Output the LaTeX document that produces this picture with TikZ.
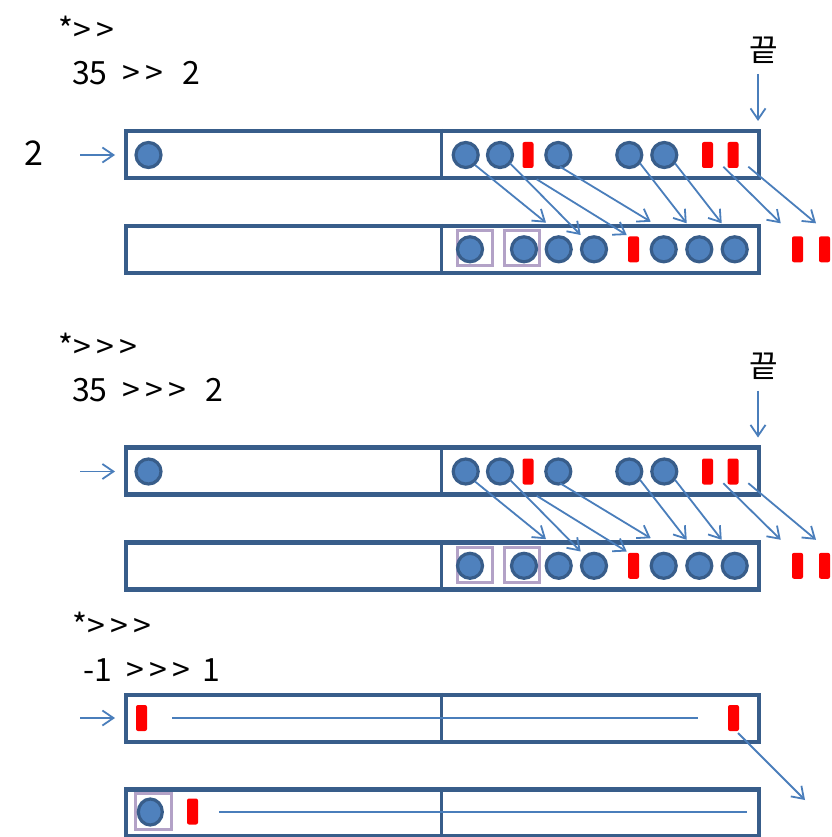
\documentclass[tikz,border=0pt]{standalone}
\usepackage{fontspec}
\setmainfont{Noto Sans CJK KR}
\usetikzlibrary{arrows.meta,shapes.geometric}
\definecolor{boxc}{HTML}{385D8A}
\definecolor{fillc}{HTML}{4F81BD}
\definecolor{arrc}{HTML}{4A7EBB}
\definecolor{purp}{HTML}{B3A2C7}
\tikzset{
 reg/.style={rectangle, draw=boxc, line width=4.2pt, minimum width=633pt, minimum height=47pt, inner sep=0pt},
 bit/.style={circle, draw=boxc, fill=fillc, line width=3.2pt, minimum size=25pt, inner sep=0pt},
 rbit/.style={rectangle, fill=red, rounded corners=2pt, minimum width=11pt, minimum height=26pt, inner sep=0pt},
 sel/.style={rectangle, draw=purp, line width=3pt, minimum size=35pt, inner sep=0pt},
 conn/.style={draw=arrc, line width=1.8pt, -{Straight Barb[length=11pt,width=15pt,line width=1.8pt]}},
 plain/.style={draw=arrc, line width=1.8pt},
 lbl/.style={font=\fontsize{32}{36}\selectfont, anchor=base west, inner sep=0pt},
 kor/.style={font=\fontsize{31}{34}\selectfont, inner sep=0pt},
}
\newcommand\shiftsec[4]{%
\begin{scope}[shift={(0,#2)}]
 \node[lbl] (#1t1) at (58,42) {#3};
 \node[lbl] (#1t2) at (72,85) {#4};
 \node[kor] (#1end) at (764,50) {끝};
 \coordinate (#1e0) at (758,74);
 \coordinate (#1e1) at (758,121);
 \draw[conn] (#1e0) -- (#1e1);
 \coordinate (#1l0) at (80,155);
 \coordinate (#1l1) at (115,155);
 \draw[conn] (#1l0) -- (#1l1);
 \node[reg] (#1r1) at (442.5,154.5) {};
 \draw[draw=boxc, line width=3.2pt] ([xshift=-1pt]#1r1.north) -- ([xshift=-1pt]#1r1.south);
 \node[reg] (#1r2) at (442.5,249.5) {};
 \draw[draw=boxc, line width=3.2pt] ([xshift=-1pt]#1r2.north) -- ([xshift=-1pt]#1r2.south);
 \node[bit] (#1a0) at (148.5,155) {};
 \node[bit] (#1a1) at (465.7,155) {};
 \node[bit] (#1a2) at (500,155) {};
 \node[rbit] (#1a3) at (528,155) {};
 \node[bit] (#1a4) at (558.3,155) {};
 \node[bit] (#1a5) at (629.3,155) {};
 \node[bit] (#1a6) at (664.3,155) {};
 \node[rbit] (#1a7) at (707.5,155) {};
 \node[rbit] (#1a8) at (733,155) {};
 \node[sel] (#1s1) at (475.3,248) {};
 \node[sel] (#1s2) at (522,248) {};
 \node[bit] (#1b1) at (470,249.3) {};
 \node[bit] (#1b2) at (524,249.3) {};
 \node[bit] (#1b3) at (558.7,249.3) {};
 \node[bit] (#1b4) at (594,249.3) {};
 \node[rbit] (#1b5) at (633.5,249.3) {};
 \node[bit] (#1b6) at (663.7,249.3) {};
 \node[bit] (#1b7) at (699.3,249.3) {};
 \node[bit] (#1b8) at (734.7,249.3) {};
 \node[rbit] (#1b9) at (797.5,249.3) {};
 \node[rbit] (#1b10) at (824.5,249.3) {};
 \coordinate (#1p1) at (475,165);   \coordinate (#1q1) at (546,222.7);
 \coordinate (#1p2) at (510,163.3); \coordinate (#1q2) at (580.7,235);
 \coordinate (#1p3) at (536.7,179.3); \coordinate (#1q3) at (626.7,235);
 \coordinate (#1p4) at (560,166.7); \coordinate (#1q4) at (650.7,221.7);
 \coordinate (#1p5) at (640,163.3); \coordinate (#1q5) at (686.7,223.3);
 \coordinate (#1p6) at (675,163.3); \coordinate (#1q6) at (721.7,223.3);
 \coordinate (#1p7) at (723.3,166.7); \coordinate (#1q7) at (780.7,223.3);
 \coordinate (#1p8) at (748.3,166.7); \coordinate (#1q8) at (816,223.3);
 \foreach \k in {1,...,8} {\draw[conn] (#1p\k) -- (#1q\k);}
\end{scope}}
\begin{document}
\begin{tikzpicture}[x=1pt,y=-1pt]
\useasboundingbox[fill=white] (0,0) rectangle (831,837);
\node[font=\fontsize{34}{38}\selectfont, inner sep=0pt] (two) at (34,153) {2};
\shiftsec{A}{0}{*>\,>}{35\ \ >\,>\ \ \,2}
\shiftsec{B}{316.5}{*>\,>\,>}{35\ \ >\,>\,>\ \ \,2}
% section 3
\node[lbl] (Ct1) at (72,637) {*>\,>\,>};
\node[lbl] (Ct2) at (83,681) {-1\ \ >\,>\,>\ \,1};
\coordinate (Cl0) at (80,718);
\coordinate (Cl1) at (115,718);
\draw[conn] (Cl0) -- (Cl1);
\node[reg] (Cr1) at (442.5,718.5) {};
\draw[draw=boxc, line width=3.2pt] ([xshift=-1pt]Cr1.north) -- ([xshift=-1pt]Cr1.south);
\node[reg] (Cr2) at (442.5,813) {};
\draw[draw=boxc, line width=3.2pt] ([xshift=-1pt]Cr2.north) -- ([xshift=-1pt]Cr2.south);
\node[rbit] (Ca1) at (141.5,718) {};
\node[rbit] (Ca2) at (733.5,718) {};
\coordinate (Cw0) at (172,718);
\coordinate (Cw1) at (698,718);
\draw[plain] (Cw0) -- (Cw1);
\node[sel, minimum width=36pt, minimum height=36pt] (Cs1) at (153.5,811.5) {};
\node[ellipse, draw=boxc, fill=fillc, line width=3.2pt, minimum width=24pt, minimum height=26pt, inner sep=0pt] (Cb1) at (150.3,812) {};
\node[rbit] (Cb2) at (192.5,811.5) {};
\coordinate (Cv0) at (219,812);
\coordinate (Cv1) at (747,812);
\draw[plain] (Cv0) -- (Cv1);
\coordinate (Cp) at (738,733);
\coordinate (Cq) at (805,800);
\draw[conn] (Cp) -- (Cq);
\end{tikzpicture}
\end{document}
